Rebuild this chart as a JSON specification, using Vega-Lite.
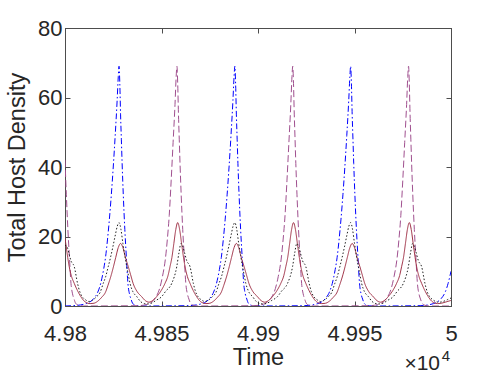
{
"$schema":"https://vega.github.io/schema/vega-lite/v6.json",
"width":386,"height":278,
"autosize":{"type":"none"},
"padding":{"left":65,"top":28,"right":47,"bottom":68},
"config":{"view":{"stroke":"#4d4d4d","strokeWidth":1},"font":"Liberation Sans",
"axis":{"grid":false,"domainColor":"#4d4d4d","tickColor":"#4d4d4d","labelColor":"#262626","titleColor":"#262626","labelFont":"Liberation Sans","titleFont":"Liberation Sans","labelFontSize":22,"titleFontSize":23.5,"titleFontWeight":"normal","tickSize":-5,"labelFlush":false}},
"datasets":{
"pts":[
{"s":"A","t":49800,"v":0},{"s":"A","t":49804,"v":0.1},{"s":"A","t":49808,"v":0.3},{"s":"A","t":49811,"v":0.7},{"s":"A","t":49813,"v":1.2},{"s":"A","t":49815,"v":2.2},{"s":"A","t":49817,"v":4},{"s":"A","t":49818.5,"v":6.5},{"s":"A","t":49820,"v":10.5},{"s":"A","t":49821,"v":14},{"s":"A","t":49822,"v":19},{"s":"A","t":49823,"v":25},{"s":"A","t":49824,"v":32},{"s":"A","t":49825,"v":40},{"s":"A","t":49826,"v":49},{"s":"A","t":49827,"v":59},{"s":"A","t":49827.6,"v":66},{"s":"A","t":49828,"v":69},{"s":"A","t":49828.4,"v":64},{"s":"A","t":49828.8,"v":55},{"s":"A","t":49829.2,"v":48},{"s":"A","t":49829.6,"v":41},{"s":"A","t":49830.2,"v":32},{"s":"A","t":49831,"v":22},{"s":"A","t":49831.8,"v":14},{"s":"A","t":49832.6,"v":6.5},{"s":"A","t":49833.4,"v":3.5},{"s":"A","t":49834.2,"v":2},{"s":"A","t":49835,"v":0.8},{"s":"A","t":49836.5,"v":0.2},{"s":"A","t":49839,"v":0},
{"s":"A","t":49864,"v":0.1},{"s":"A","t":49868,"v":0.3},{"s":"A","t":49871,"v":0.7},{"s":"A","t":49873,"v":1.2},{"s":"A","t":49875,"v":2.2},{"s":"A","t":49877,"v":4},{"s":"A","t":49878.5,"v":6.5},{"s":"A","t":49880,"v":10.5},{"s":"A","t":49881,"v":14},{"s":"A","t":49882,"v":19},{"s":"A","t":49883,"v":25},{"s":"A","t":49884,"v":32},{"s":"A","t":49885,"v":40},{"s":"A","t":49886,"v":49},{"s":"A","t":49887,"v":59},{"s":"A","t":49887.6,"v":66},{"s":"A","t":49888,"v":69},{"s":"A","t":49888.4,"v":64},{"s":"A","t":49888.8,"v":55},{"s":"A","t":49889.2,"v":48},{"s":"A","t":49889.6,"v":41},{"s":"A","t":49890.2,"v":32},{"s":"A","t":49891,"v":22},{"s":"A","t":49891.8,"v":14},{"s":"A","t":49892.6,"v":6.5},{"s":"A","t":49893.4,"v":3.5},{"s":"A","t":49894.2,"v":2},{"s":"A","t":49895,"v":0.8},{"s":"A","t":49896.5,"v":0.2},{"s":"A","t":49899,"v":0},
{"s":"A","t":49924,"v":0.1},{"s":"A","t":49928,"v":0.3},{"s":"A","t":49931,"v":0.7},{"s":"A","t":49933,"v":1.2},{"s":"A","t":49935,"v":2.2},{"s":"A","t":49937,"v":4},{"s":"A","t":49938.5,"v":6.5},{"s":"A","t":49940,"v":10.5},{"s":"A","t":49941,"v":14},{"s":"A","t":49942,"v":19},{"s":"A","t":49943,"v":25},{"s":"A","t":49944,"v":32},{"s":"A","t":49945,"v":40},{"s":"A","t":49946,"v":49},{"s":"A","t":49947,"v":59},{"s":"A","t":49947.6,"v":66},{"s":"A","t":49948,"v":69},{"s":"A","t":49948.4,"v":64},{"s":"A","t":49948.8,"v":55},{"s":"A","t":49949.2,"v":48},{"s":"A","t":49949.6,"v":41},{"s":"A","t":49950.2,"v":32},{"s":"A","t":49951,"v":22},{"s":"A","t":49951.8,"v":14},{"s":"A","t":49952.6,"v":6.5},{"s":"A","t":49953.4,"v":3.5},{"s":"A","t":49954.2,"v":2},{"s":"A","t":49955,"v":0.8},{"s":"A","t":49956.5,"v":0.2},{"s":"A","t":49959,"v":0},
{"s":"A","t":49984,"v":0.1},{"s":"A","t":49988,"v":0.3},{"s":"A","t":49991,"v":0.7},{"s":"A","t":49993,"v":1.2},{"s":"A","t":49995,"v":2.2},{"s":"A","t":49997,"v":4},{"s":"A","t":49998.5,"v":6.5},{"s":"A","t":50000,"v":10},
{"s":"B","t":49800,"v":42},{"s":"B","t":49800.7,"v":32},{"s":"B","t":49801.5,"v":22},{"s":"B","t":49802.3,"v":14},{"s":"B","t":49803.1,"v":6.5},{"s":"B","t":49803.9,"v":3.5},{"s":"B","t":49804.7,"v":2},{"s":"B","t":49805.5,"v":0.8},{"s":"B","t":49807,"v":0.2},{"s":"B","t":49809.5,"v":0},
{"s":"B","t":49838,"v":0.1},{"s":"B","t":49842,"v":0.4},{"s":"B","t":49845,"v":1.2},{"s":"B","t":49847,"v":2.5},{"s":"B","t":49849,"v":5},{"s":"B","t":49850.5,"v":8.5},{"s":"B","t":49852,"v":13.5},{"s":"B","t":49853,"v":19},{"s":"B","t":49854,"v":26},{"s":"B","t":49855,"v":36},{"s":"B","t":49856,"v":47},{"s":"B","t":49857,"v":58},{"s":"B","t":49857.6,"v":66},{"s":"B","t":49858,"v":69},{"s":"B","t":49858.4,"v":64},{"s":"B","t":49858.8,"v":55},{"s":"B","t":49859.2,"v":48},{"s":"B","t":49859.6,"v":41},{"s":"B","t":49860.2,"v":32},{"s":"B","t":49861,"v":22},{"s":"B","t":49861.8,"v":14},{"s":"B","t":49862.6,"v":6.5},{"s":"B","t":49863.4,"v":3.5},{"s":"B","t":49864.2,"v":2},{"s":"B","t":49865,"v":0.8},{"s":"B","t":49866.5,"v":0.2},{"s":"B","t":49869,"v":0},
{"s":"B","t":49898,"v":0.1},{"s":"B","t":49902,"v":0.4},{"s":"B","t":49905,"v":1.2},{"s":"B","t":49907,"v":2.5},{"s":"B","t":49909,"v":5},{"s":"B","t":49910.5,"v":8.5},{"s":"B","t":49912,"v":13.5},{"s":"B","t":49913,"v":19},{"s":"B","t":49914,"v":26},{"s":"B","t":49915,"v":36},{"s":"B","t":49916,"v":47},{"s":"B","t":49917,"v":58},{"s":"B","t":49917.6,"v":66},{"s":"B","t":49918,"v":69},{"s":"B","t":49918.4,"v":64},{"s":"B","t":49918.8,"v":55},{"s":"B","t":49919.2,"v":48},{"s":"B","t":49919.6,"v":41},{"s":"B","t":49920.2,"v":32},{"s":"B","t":49921,"v":22},{"s":"B","t":49921.8,"v":14},{"s":"B","t":49922.6,"v":6.5},{"s":"B","t":49923.4,"v":3.5},{"s":"B","t":49924.2,"v":2},{"s":"B","t":49925,"v":0.8},{"s":"B","t":49926.5,"v":0.2},{"s":"B","t":49929,"v":0},
{"s":"B","t":49958,"v":0.1},{"s":"B","t":49962,"v":0.4},{"s":"B","t":49965,"v":1.2},{"s":"B","t":49967,"v":2.5},{"s":"B","t":49969,"v":5},{"s":"B","t":49970.5,"v":8.5},{"s":"B","t":49972,"v":13.5},{"s":"B","t":49973,"v":19},{"s":"B","t":49974,"v":26},{"s":"B","t":49975,"v":36},{"s":"B","t":49976,"v":47},{"s":"B","t":49977,"v":58},{"s":"B","t":49977.6,"v":66},{"s":"B","t":49978,"v":69},{"s":"B","t":49978.4,"v":64},{"s":"B","t":49978.8,"v":55},{"s":"B","t":49979.2,"v":48},{"s":"B","t":49979.6,"v":41},{"s":"B","t":49980.2,"v":32},{"s":"B","t":49981,"v":22},{"s":"B","t":49981.8,"v":14},{"s":"B","t":49982.6,"v":6.5},{"s":"B","t":49983.4,"v":3.5},{"s":"B","t":49984.2,"v":2},{"s":"B","t":49985,"v":0.8},{"s":"B","t":49986.5,"v":0.2},{"s":"B","t":49989,"v":0},{"s":"B","t":50000,"v":0},
{"s":"C","t":49800,"v":19.5},{"s":"C","t":49800.4,"v":18},{"s":"C","t":49801.4,"v":14},{"s":"C","t":49802.2,"v":11.3},{"s":"C","t":49803.4,"v":8.5},{"s":"C","t":49804.8,"v":6.5},{"s":"C","t":49806.4,"v":4.5},{"s":"C","t":49808.2,"v":2.7},{"s":"C","t":49810.4,"v":1.2},{"s":"C","t":49813,"v":0.7},{"s":"C","t":49815,"v":0.8},{"s":"C","t":49817,"v":1.4},{"s":"C","t":49819,"v":2.5},{"s":"C","t":49821,"v":4},{"s":"C","t":49822.3,"v":6},{"s":"C","t":49824,"v":9},{"s":"C","t":49825.1,"v":11.3},{"s":"C","t":49826.3,"v":14},{"s":"C","t":49827.6,"v":16.8},{"s":"C","t":49828.8,"v":18},{"s":"C","t":49830,"v":16.8},{"s":"C","t":49831.3,"v":14},{"s":"C","t":49832.8,"v":11.3},{"s":"C","t":49834,"v":9},{"s":"C","t":49835.3,"v":6.5},{"s":"C","t":49837.3,"v":4.2},{"s":"C","t":49839.7,"v":2.7},{"s":"C","t":49841.5,"v":1.6},{"s":"C","t":49843.5,"v":1.1},{"s":"C","t":49845.5,"v":1.6},{"s":"C","t":49847.5,"v":2.7},{"s":"C","t":49849.9,"v":4.5},{"s":"C","t":49851.8,"v":6.5},{"s":"C","t":49853.4,"v":8.8},{"s":"C","t":49854.4,"v":11.3},{"s":"C","t":49855.4,"v":14},{"s":"C","t":49856.4,"v":18},{"s":"C","t":49857.4,"v":22},
{"s":"C","t":49858.4,"v":24},{"s":"C","t":49859.4,"v":22},{"s":"C","t":49860.4,"v":18},{"s":"C","t":49861.4,"v":14},{"s":"C","t":49862.2,"v":11.3},{"s":"C","t":49863.4,"v":8.5},{"s":"C","t":49864.8,"v":6.5},{"s":"C","t":49866.4,"v":4.5},{"s":"C","t":49868.2,"v":2.7},{"s":"C","t":49870.4,"v":1.2},{"s":"C","t":49873,"v":0.7},{"s":"C","t":49875,"v":0.8},{"s":"C","t":49877,"v":1.4},{"s":"C","t":49879,"v":2.5},{"s":"C","t":49881,"v":4},{"s":"C","t":49882.3,"v":6},{"s":"C","t":49884,"v":9},{"s":"C","t":49885.1,"v":11.3},{"s":"C","t":49886.3,"v":14},{"s":"C","t":49887.6,"v":16.8},{"s":"C","t":49888.8,"v":18},{"s":"C","t":49890,"v":16.8},{"s":"C","t":49891.3,"v":14},{"s":"C","t":49892.8,"v":11.3},{"s":"C","t":49894,"v":9},{"s":"C","t":49895.3,"v":6.5},{"s":"C","t":49897.3,"v":4.2},{"s":"C","t":49899.7,"v":2.7},{"s":"C","t":49901.5,"v":1.6},{"s":"C","t":49903.5,"v":1.1},{"s":"C","t":49905.5,"v":1.6},{"s":"C","t":49907.5,"v":2.7},{"s":"C","t":49909.9,"v":4.5},{"s":"C","t":49911.8,"v":6.5},{"s":"C","t":49913.4,"v":8.8},{"s":"C","t":49914.4,"v":11.3},{"s":"C","t":49915.4,"v":14},{"s":"C","t":49916.4,"v":18},{"s":"C","t":49917.4,"v":22},
{"s":"C","t":49918.4,"v":24},{"s":"C","t":49919.4,"v":22},{"s":"C","t":49920.4,"v":18},{"s":"C","t":49921.4,"v":14},{"s":"C","t":49922.2,"v":11.3},{"s":"C","t":49923.4,"v":8.5},{"s":"C","t":49924.8,"v":6.5},{"s":"C","t":49926.4,"v":4.5},{"s":"C","t":49928.2,"v":2.7},{"s":"C","t":49930.4,"v":1.2},{"s":"C","t":49933,"v":0.7},{"s":"C","t":49935,"v":0.8},{"s":"C","t":49937,"v":1.4},{"s":"C","t":49939,"v":2.5},{"s":"C","t":49941,"v":4},{"s":"C","t":49942.3,"v":6},{"s":"C","t":49944,"v":9},{"s":"C","t":49945.1,"v":11.3},{"s":"C","t":49946.3,"v":14},{"s":"C","t":49947.6,"v":16.8},{"s":"C","t":49948.8,"v":18},{"s":"C","t":49950,"v":16.8},{"s":"C","t":49951.3,"v":14},{"s":"C","t":49952.8,"v":11.3},{"s":"C","t":49954,"v":9},{"s":"C","t":49955.3,"v":6.5},{"s":"C","t":49957.3,"v":4.2},{"s":"C","t":49959.7,"v":2.7},{"s":"C","t":49961.5,"v":1.6},{"s":"C","t":49963.5,"v":1.1},{"s":"C","t":49965.5,"v":1.6},{"s":"C","t":49967.5,"v":2.7},{"s":"C","t":49969.9,"v":4.5},{"s":"C","t":49971.8,"v":6.5},{"s":"C","t":49973.4,"v":8.8},{"s":"C","t":49974.4,"v":11.3},{"s":"C","t":49975.4,"v":14},{"s":"C","t":49976.4,"v":18},{"s":"C","t":49977.4,"v":22},
{"s":"C","t":49978.4,"v":24},{"s":"C","t":49979.4,"v":22},{"s":"C","t":49980.4,"v":18},{"s":"C","t":49981.4,"v":14},{"s":"C","t":49982.2,"v":11.3},{"s":"C","t":49983.4,"v":8.5},{"s":"C","t":49984.8,"v":6.5},{"s":"C","t":49986.4,"v":4.5},{"s":"C","t":49988.2,"v":2.7},{"s":"C","t":49990.4,"v":1.2},{"s":"C","t":49993,"v":0.7},{"s":"C","t":49995,"v":0.8},{"s":"C","t":49997,"v":1.1},{"s":"C","t":50000,"v":1.6},
{"s":"D","t":49800,"v":17.5},{"s":"D","t":49801.1,"v":17},{"s":"D","t":49802.1,"v":15},{"s":"D","t":49803.1,"v":13},{"s":"D","t":49804.8,"v":11.3},{"s":"D","t":49806.5,"v":6.5},{"s":"D","t":49807.6,"v":4.2},{"s":"D","t":49808.9,"v":2.7},{"s":"D","t":49810.6,"v":1.8},{"s":"D","t":49812.4,"v":1.3},{"s":"D","t":49814.1,"v":1.6},{"s":"D","t":49816.4,"v":2.7},{"s":"D","t":49818.1,"v":3.8},{"s":"D","t":49819.8,"v":6.5},{"s":"D","t":49821.1,"v":8.5},{"s":"D","t":49822.4,"v":11.3},{"s":"D","t":49823.6,"v":14},{"s":"D","t":49824.8,"v":17},{"s":"D","t":49826.1,"v":20.5},{"s":"D","t":49827.1,"v":23},{"s":"D","t":49828,"v":24},{"s":"D","t":49829,"v":22},{"s":"D","t":49830,"v":18},{"s":"D","t":49831,"v":14.5},{"s":"D","t":49832,"v":11.3},{"s":"D","t":49832.9,"v":8.7},{"s":"D","t":49833.7,"v":6.5},{"s":"D","t":49835.1,"v":4.2},{"s":"D","t":49837.2,"v":2.7},{"s":"D","t":49839.1,"v":1.3},{"s":"D","t":49841.1,"v":0.7},{"s":"D","t":49843.1,"v":0.6},{"s":"D","t":49845.1,"v":0.9},{"s":"D","t":49847.1,"v":1.6},{"s":"D","t":49850.1,"v":2.7},{"s":"D","t":49852.1,"v":4.2},{"s":"D","t":49855.3,"v":6.5},{"s":"D","t":49857.9,"v":11.3},{"s":"D","t":49859.1,"v":15.5},
{"s":"D","t":49860.1,"v":18},{"s":"D","t":49861.1,"v":17},{"s":"D","t":49862.1,"v":15},{"s":"D","t":49863.1,"v":13},{"s":"D","t":49864.8,"v":11.3},{"s":"D","t":49866.5,"v":6.5},{"s":"D","t":49867.6,"v":4.2},{"s":"D","t":49868.9,"v":2.7},{"s":"D","t":49870.6,"v":1.8},{"s":"D","t":49872.4,"v":1.3},{"s":"D","t":49874.1,"v":1.6},{"s":"D","t":49876.4,"v":2.7},{"s":"D","t":49878.1,"v":3.8},{"s":"D","t":49879.8,"v":6.5},{"s":"D","t":49881.1,"v":8.5},{"s":"D","t":49882.4,"v":11.3},{"s":"D","t":49883.6,"v":14},{"s":"D","t":49884.8,"v":17},{"s":"D","t":49886.1,"v":20.5},{"s":"D","t":49887.1,"v":23},{"s":"D","t":49888,"v":24},{"s":"D","t":49889,"v":22},{"s":"D","t":49890,"v":18},{"s":"D","t":49891,"v":14.5},{"s":"D","t":49892,"v":11.3},{"s":"D","t":49892.9,"v":8.7},{"s":"D","t":49893.7,"v":6.5},{"s":"D","t":49895.1,"v":4.2},{"s":"D","t":49897.2,"v":2.7},{"s":"D","t":49899.1,"v":1.3},{"s":"D","t":49901.1,"v":0.7},{"s":"D","t":49903.1,"v":0.6},{"s":"D","t":49905.1,"v":0.9},{"s":"D","t":49907.1,"v":1.6},{"s":"D","t":49910.1,"v":2.7},{"s":"D","t":49912.1,"v":4.2},{"s":"D","t":49915.3,"v":6.5},{"s":"D","t":49917.9,"v":11.3},{"s":"D","t":49919.1,"v":15.5},
{"s":"D","t":49920.1,"v":18},{"s":"D","t":49921.1,"v":17},{"s":"D","t":49922.1,"v":15},{"s":"D","t":49923.1,"v":13},{"s":"D","t":49924.8,"v":11.3},{"s":"D","t":49926.5,"v":6.5},{"s":"D","t":49927.6,"v":4.2},{"s":"D","t":49928.9,"v":2.7},{"s":"D","t":49930.6,"v":1.8},{"s":"D","t":49932.4,"v":1.3},{"s":"D","t":49934.1,"v":1.6},{"s":"D","t":49936.4,"v":2.7},{"s":"D","t":49938.1,"v":3.8},{"s":"D","t":49939.8,"v":6.5},{"s":"D","t":49941.1,"v":8.5},{"s":"D","t":49942.4,"v":11.3},{"s":"D","t":49943.6,"v":14},{"s":"D","t":49944.8,"v":17},{"s":"D","t":49946.1,"v":20.5},{"s":"D","t":49947.1,"v":23},{"s":"D","t":49948,"v":24},{"s":"D","t":49949,"v":22},{"s":"D","t":49950,"v":18},{"s":"D","t":49951,"v":14.5},{"s":"D","t":49952,"v":11.3},{"s":"D","t":49952.9,"v":8.7},{"s":"D","t":49953.7,"v":6.5},{"s":"D","t":49955.1,"v":4.2},{"s":"D","t":49957.2,"v":2.7},{"s":"D","t":49959.1,"v":1.3},{"s":"D","t":49961.1,"v":0.7},{"s":"D","t":49963.1,"v":0.6},{"s":"D","t":49965.1,"v":0.9},{"s":"D","t":49967.1,"v":1.6},{"s":"D","t":49970.1,"v":2.7},{"s":"D","t":49972.1,"v":4.2},{"s":"D","t":49975.3,"v":6.5},{"s":"D","t":49977.9,"v":11.3},{"s":"D","t":49979.1,"v":15.5},
{"s":"D","t":49980.1,"v":18},{"s":"D","t":49981.1,"v":17},{"s":"D","t":49982.1,"v":15},{"s":"D","t":49983.1,"v":13},{"s":"D","t":49984.8,"v":11.3},{"s":"D","t":49986.5,"v":6.5},{"s":"D","t":49987.6,"v":4.2},{"s":"D","t":49988.9,"v":2.7},{"s":"D","t":49990.6,"v":1.8},{"s":"D","t":49992.4,"v":1.2},{"s":"D","t":49994.1,"v":1.1},{"s":"D","t":49996.4,"v":1.4},{"s":"D","t":49998.1,"v":1.8},{"s":"D","t":50000,"v":2.3}
],
"ticks":[{"t":49800,"v":0}],
"note":[{"t":50000,"v":-18.4,"base":"×10","exp":"4"}]
},
"layer":[
{"data":{"name":"pts"},
"mark":{"type":"line","strokeWidth":1,"interpolate":"monotone","clip":true},
"encoding":{
"x":{"field":"t","type":"quantitative","scale":{"domain":[49800,50000],"nice":false,"zero":false},
"axis":{"values":[49800,49850,49900,49950,50000],"labelExpr":"format(datum.value/10000,'.4~f')","title":"Time","labelPadding":22,"titlePadding":1}},
"y":{"field":"v","type":"quantitative","scale":{"domain":[0,80],"nice":false,"zero":false},
"axis":{"values":[0,20,40,60,80],"title":"Total Host Density","labelPadding":8,"titlePadding":8}},
"color":{"field":"s","type":"nominal","scale":{"domain":["A","B","C","D"],"range":["#0000ff","#a0508f","#9f2f45","#222222"]},"legend":null},
"strokeDash":{"field":"s","type":"nominal","scale":{"domain":["A","B","C","D"],"range":[[6,2.5,1.5,2.5],[7,3],[1,0],[1.5,2]]},"legend":null},
"order":{"field":"s","sort":"ascending"}
}},
{"data":{"name":"ticks"},
"mark":{"type":"point","opacity":0},
"encoding":{
"x":{"field":"t","type":"quantitative","scale":{"domain":[49800,50000],"nice":false,"zero":false},"axis":{"orient":"top","values":[49800,49850,49900,49950,50000],"labels":false,"title":null}},
"y":{"field":"v","type":"quantitative","scale":{"domain":[0,80],"nice":false,"zero":false},"axis":{"orient":"right","values":[0,20,40,60,80],"labels":false,"title":null}}
}},
{"data":{"name":"note"},
"mark":{"type":"text","align":"right","baseline":"alphabetic","fontSize":21,"color":"#262626","font":"Liberation Sans","dx":-11},
"encoding":{
"x":{"field":"t","type":"quantitative","scale":{"domain":[49800,50000],"nice":false,"zero":false},"axis":null},
"y":{"field":"v","type":"quantitative","scale":{"domain":[0,80],"nice":false,"zero":false},"axis":null},
"text":{"field":"base"}
}},
{"data":{"name":"note"},
"mark":{"type":"text","align":"right","baseline":"alphabetic","fontSize":15,"color":"#262626","font":"Liberation Sans","dx":-1,"dy":-9},
"encoding":{
"x":{"field":"t","type":"quantitative","scale":{"domain":[49800,50000],"nice":false,"zero":false},"axis":null},
"y":{"field":"v","type":"quantitative","scale":{"domain":[0,80],"nice":false,"zero":false},"axis":null},
"text":{"field":"exp"}
}}
],
"resolve":{"axis":{"x":"independent","y":"independent"}}
}
